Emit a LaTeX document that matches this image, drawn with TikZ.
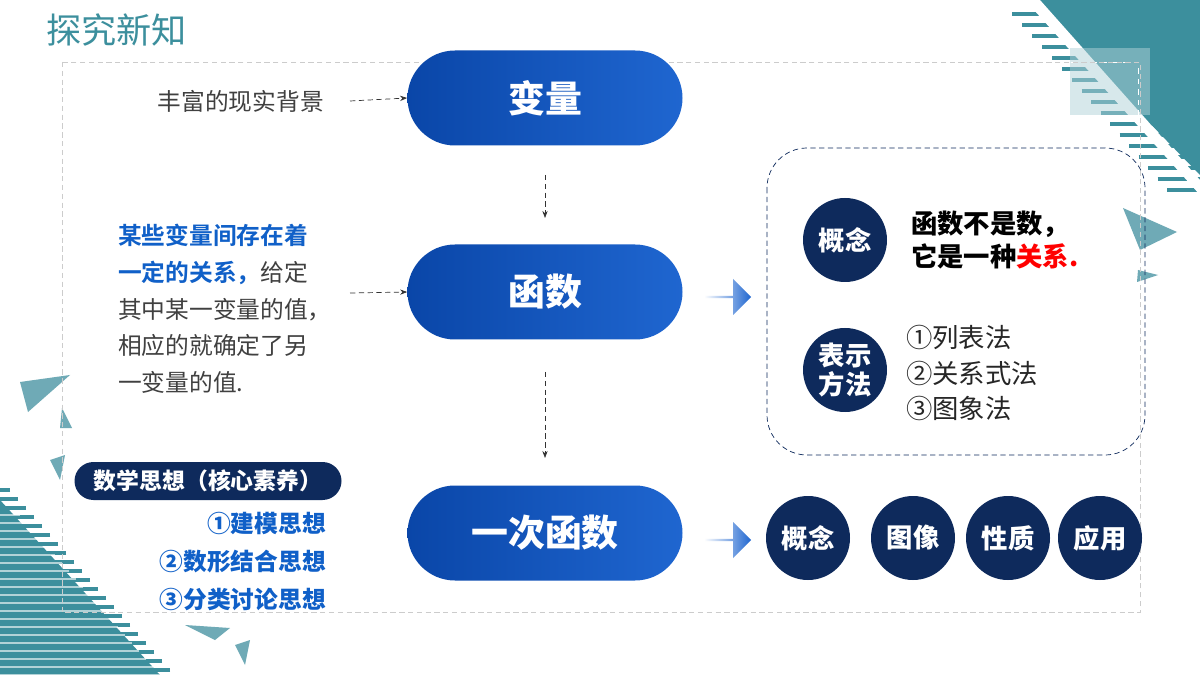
\documentclass[tikz,border=0pt]{standalone}
\usepackage{fontspec}
\setmainfont{Noto Sans CJK SC}
\newfontfamily\cjkb{Noto Sans CJK SC}[BoldFont={* Bold}]
\usetikzlibrary{arrows.meta,shapes.arrows}
\definecolor{teal1}{HTML}{3C8F9D}
\definecolor{teal2}{HTML}{6FAAB6}
\definecolor{navy}{HTML}{0E2A5C}
\definecolor{pb1}{HTML}{0A46A8}
\definecolor{pb2}{HTML}{1F66D0}
\definecolor{tblue}{HTML}{1060C8}
\definecolor{tgray}{HTML}{404040}
\tikzset{
 pill/.style={rounded corners=47.5*0.02cm,minimum width=275*0.02cm,minimum height=95*0.02cm,left color=pb1,right color=pb2,draw=none,text=white,font=\bfseries\fontsize{21}{24}\selectfont},
 circ/.style={circle,fill=navy,minimum size=84*0.02cm,inner sep=0pt,text=white,font=\bfseries\fontsize{15}{17}\selectfont,align=center},
 darr/.style={densely dashed,-{Stealth[length=4pt]},thin,black!80},
 barr/.style={single arrow,minimum height=47*0.02cm,minimum width=36*0.02cm,single arrow head extend=3pt,left color=white,right color=pb2,draw=none,inner sep=0pt},
 body/.style={font=\fontsize{13.5}{16}\selectfont,text=tgray,anchor=west},
}
\begin{document}
\begin{tikzpicture}[x=0.02cm,y=-0.02cm]
\useasboundingbox (0,0) rectangle (1200,675);
\fill[white] (0,0) rectangle (1200,675);
% decorations top right
\fill[teal1] (1030,0)--(1200,0)--(1200,175)--cycle;
\foreach \i in {0,...,16}{\draw[teal1,line width=2pt] (1015+\i*9.5,14+\i*11) -- ++(200,0);}
\fill[white] (1025,0)--(1040,0)--(1200,180)--(1200,195)--cycle;
\foreach \i in {0,...,16}{\draw[teal1,line width=2pt] (1012+\i*10,14+\i*11) -- ++(22,0);}
\fill[teal1!40,opacity=0.5] (1070,48) rectangle (1150,115);
\draw[white,dashed] (1060,62)--(1138,62)--(1138,125);
\fill[teal2] (1123,208)--(1177,232)--(1140,250)--cycle;
\fill[teal2] (1138,270)--(1158,275)--(1137,282)--cycle;
% decorations bottom left
\fill[teal1] (0,500)--(160,675)--(0,675)--cycle;
\foreach \i in {0,...,20}{\draw[teal1,line width=2pt] (10+\i*8,490+\i*9) -- ++(-40,0);}
\foreach \i in {0,...,22}{\draw[white,line width=1.2pt,opacity=.6] (0,515+\i*8) -- ++(\i*7+20,0);}
\fill[teal2] (20,382)--(70,375)--(28,412)--cycle;
\fill[teal2] (62,408)--(72,428)--(60,428)--cycle;
\fill[teal2] (50,460)--(65,455)--(60,480)--cycle;
\fill[teal2] (185,625)--(230,628)--(215,640)--cycle;
\fill[teal2] (235,645)--(250,640)--(245,665)--cycle;
% title & frame
\node[anchor=west,text=teal1,font=\fontsize{20}{22}\selectfont] (title) at (40,30) {探究新知};
\draw[black!20,densely dashed] (62,62) rectangle (1140,612);
% pills
\node[pill] (bl) at (545,98) {变量};
\node[pill] (hs) at (545,292) {函数};
\node[pill] (yc) at (545,533) {一次函数};
\node[body,anchor=east] (bg) at (330,101) {丰富的现实背景};
\draw[darr] (bg.east)++(20,0) coordinate (bge) -- (bl.west);
\coordinate (s1) at (545,175); \coordinate (e1) at (545,218);
\coordinate (s2) at (545,372); \coordinate (e2) at (545,458);
\draw[darr] (s1)--(e1);
\draw[darr] (s2)--(e2);
\node[body,align=left,anchor=north west,font=\fontsize{13.5}{20.9}\selectfont] (desc) at (112,218)
 {{\cjkb\bfseries\color{tblue}某些变量间存在着}\\{\cjkb\bfseries\color{tblue}一定的关系，}给定\\其中某一变量的值，\\相应的就确定了另\\一变量的值.};
\coordinate (dd) at (350,293);
\draw[darr] (dd)--(hs.west);
% block arrows
\node[barr] (ba1) at (727,297) {};
\node[barr] (ba2) at (727,540) {};
% dashed box
\draw[navy,densely dashed,rounded corners=40*0.02cm] (767,148) rectangle (1145,455);
\node[circ] (gn) at (845,240) {概念};
\node[circ] (bs) at (845,370) {表示\\方法};
\node[anchor=west,align=left,font=\bfseries\fontsize{15}{19}\selectfont] (gnt) at (905,240) {函数不是数，\\它是一种{\color{red}关系.}};
\node[anchor=west,align=left,font=\fontsize{15}{20}\selectfont,text=black!85] (bst) at (900,373) {①列表法\\②关系式法\\③图象法};
% bottom circles
\node[circ] (c1) at (808,538) {概念};
\node[circ] (c2) at (913,538) {图像};
\node[circ] (c3) at (1008,538) {性质};
\node[circ] (c4) at (1100,538) {应用};
% math thoughts
\node[fill=navy,rounded corners=19*0.02cm,minimum width=267*0.02cm,minimum height=38*0.02cm,text=white,font=\bfseries\fontsize{13}{15}\selectfont,inner sep=0pt] (sx) at (208,481) {数学思想（核心素养）};
\node[anchor=north east,align=right,text=tblue,font=\bfseries\fontsize{13.5}{21.5}\selectfont] (sxl) at (332,506) {①建模思想\\②数形结合思想\\③分类讨论思想};
\end{tikzpicture}
\end{document}
